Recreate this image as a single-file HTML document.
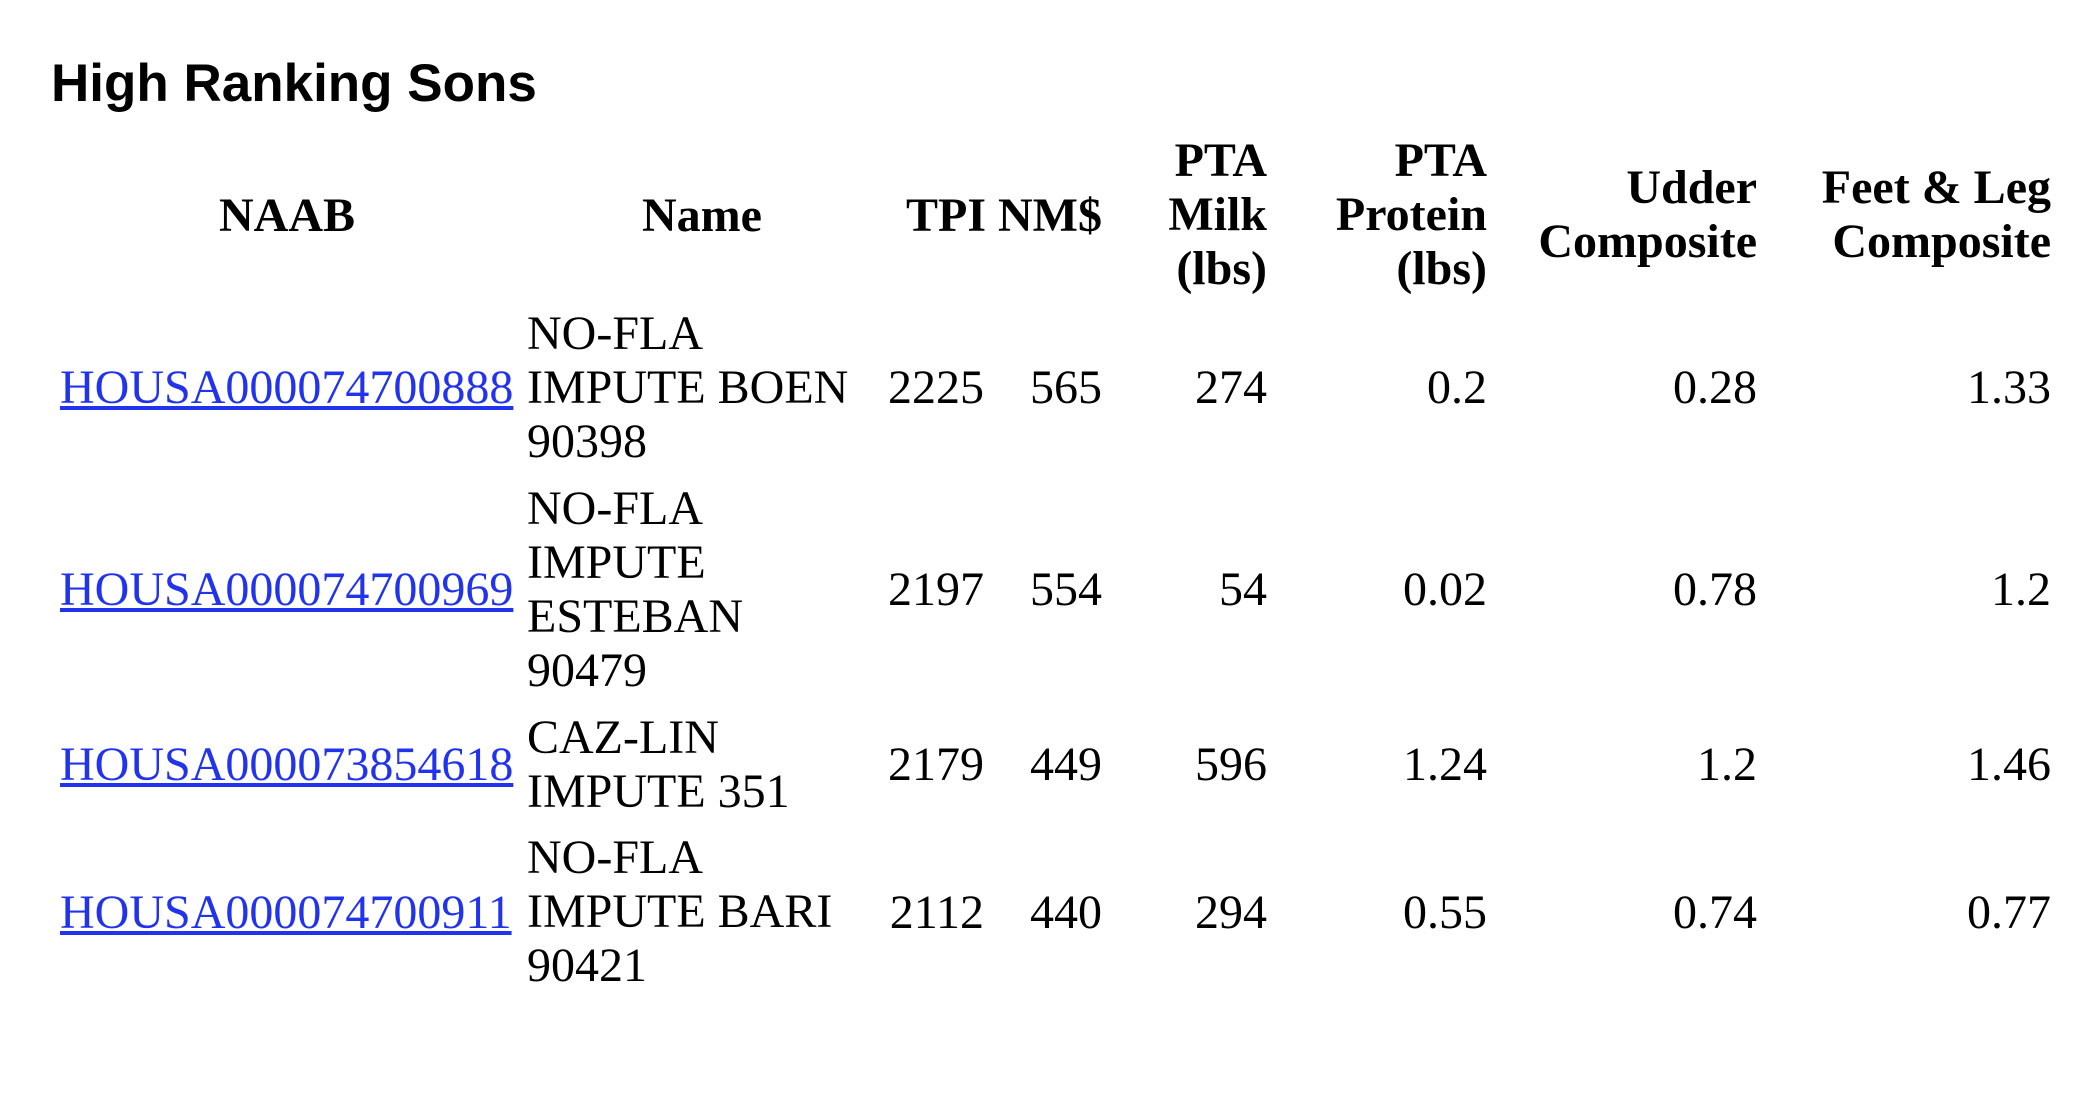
<!DOCTYPE html>
<html><head><meta charset="utf-8"><style>
html,body{margin:0;padding:0;background:#fff;width:2094px;height:1097px;overflow:hidden;position:relative}
.t{position:absolute;left:51px;top:54px;font:bold 53px "Liberation Sans",sans-serif;color:#000;line-height:60px;white-space:nowrap}
.c{position:absolute;font-family:"Liberation Serif",serif;font-size:48px;line-height:54px;color:#000;white-space:nowrap}
.h{font-weight:bold}
.r{text-align:right;width:400px}
.m{text-align:center;width:400px}
a{color:#2233ee;text-decoration:underline}
</style></head><body>
<div class="t">High Ranking Sons</div>

<div class="c h m" style="left:87px;top:189px">NAAB</div>
<div class="c h m" style="left:502px;top:189px">Name</div>
<div class="c h" style="left:906px;top:189px">TPI NM$</div>
<div class="c h r" style="left:867px;top:134px">PTA<br>Milk<br>(lbs)</div>
<div class="c h r" style="left:1087px;top:134px">PTA<br>Protein<br>(lbs)</div>
<div class="c h r" style="left:1357px;top:161px">Udder<br>Composite</div>
<div class="c h r" style="left:1651px;top:161px">Feet &amp; Leg<br>Composite</div>

<!-- row1 -->
<div class="c" style="left:60px;top:361px"><a>HOUSA000074700888</a></div>
<div class="c" style="left:527px;top:307px">NO-FLA<br>IMPUTE BOEN<br>90398</div>
<div class="c r" style="left:584px;top:361px">2225</div>
<div class="c r" style="left:702px;top:361px">565</div>
<div class="c r" style="left:867px;top:361px">274</div>
<div class="c r" style="left:1087px;top:361px">0.2</div>
<div class="c r" style="left:1357px;top:361px">0.28</div>
<div class="c r" style="left:1651px;top:361px">1.33</div>

<!-- row2 -->
<div class="c" style="left:60px;top:563px"><a>HOUSA000074700969</a></div>
<div class="c" style="left:527px;top:482px">NO-FLA<br>IMPUTE<br>ESTEBAN<br>90479</div>
<div class="c r" style="left:584px;top:563px">2197</div>
<div class="c r" style="left:702px;top:563px">554</div>
<div class="c r" style="left:867px;top:563px">54</div>
<div class="c r" style="left:1087px;top:563px">0.02</div>
<div class="c r" style="left:1357px;top:563px">0.78</div>
<div class="c r" style="left:1651px;top:563px">1.2</div>

<!-- row3 -->
<div class="c" style="left:60px;top:738px"><a>HOUSA000073854618</a></div>
<div class="c" style="left:527px;top:711px">CAZ-LIN<br>IMPUTE 351</div>
<div class="c r" style="left:584px;top:738px">2179</div>
<div class="c r" style="left:702px;top:738px">449</div>
<div class="c r" style="left:867px;top:738px">596</div>
<div class="c r" style="left:1087px;top:738px">1.24</div>
<div class="c r" style="left:1357px;top:738px">1.2</div>
<div class="c r" style="left:1651px;top:738px">1.46</div>

<!-- row4 -->
<div class="c" style="left:60px;top:886px"><a>HOUSA000074700911</a></div>
<div class="c" style="left:527px;top:831px">NO-FLA<br>IMPUTE BARI<br>90421</div>
<div class="c r" style="left:584px;top:886px">2112</div>
<div class="c r" style="left:702px;top:886px">440</div>
<div class="c r" style="left:867px;top:886px">294</div>
<div class="c r" style="left:1087px;top:886px">0.55</div>
<div class="c r" style="left:1357px;top:886px">0.74</div>
<div class="c r" style="left:1651px;top:886px">0.77</div>
</body></html>
